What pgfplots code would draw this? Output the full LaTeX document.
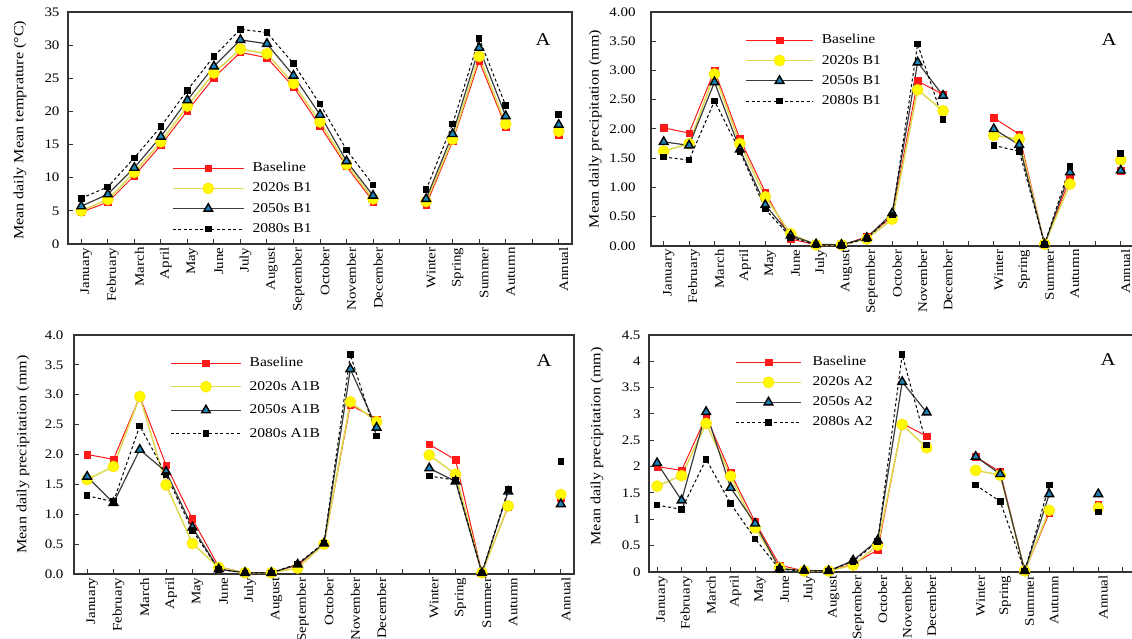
\documentclass[border=0pt]{standalone}
\usepackage{fontspec}
\setmainfont{Liberation Serif}[FakeStretch=1.15]
\usepackage{pgfplots}
\pgfplotsset{compat=1.18}
\usepackage{pgfplotstable}

\definecolor{cred}{RGB}{255,25,25}
\definecolor{cyel}{RGB}{255,250,0}
\definecolor{cyelline}{RGB}{222,218,80}
\definecolor{cgray}{RGB}{60,60,60}
\definecolor{cteal}{RGB}{30,130,180}

% x: 1..12 months, 14..17 seasons, 19 annual
\pgfplotstableread{
x base s20 s50 s80
1 4.8 5.0 5.7 6.9
2 6.3 6.7 7.5 8.6
3 10.3 10.8 11.5 13.0
4 14.9 15.4 16.2 17.7
5 20.1 20.8 21.7 23.2
6 25.1 25.8 26.8 28.3
7 28.9 29.4 30.8 32.4
8 28.1 28.7 30.2 31.9
9 23.7 24.2 25.4 27.2
10 17.8 18.4 19.5 21.1
11 11.7 12.0 12.5 14.2
12 6.4 6.8 7.3 8.9
13 nan nan nan nan
14 5.9 6.4 6.8 8.2
15 15.5 15.8 16.6 18.1
16 27.6 28.3 29.6 31.0
17 17.7 18.1 19.3 20.9
18 nan nan nan nan
19 16.5 17.0 18.0 19.5
}\tabA

\pgfplotstableread{
x base s20 s50 s80
1 2.02 1.62 1.78 1.52
2 1.93 1.75 1.72 1.47
3 3.00 2.94 2.80 2.48
4 1.83 1.75 1.65 1.62
5 0.92 0.84 0.70 0.63
6 0.12 0.21 0.18 0.15
7 0.02 0.02 0.03 0.02
8 0.01 0.02 0.02 0.01
9 0.16 0.12 0.14 0.13
10 0.50 0.46 0.56 0.53
11 2.82 2.67 3.14 3.45
12 2.59 2.31 2.57 2.16
13 nan nan nan nan
14 2.19 1.89 2.00 1.72
15 1.91 1.83 1.73 1.62
16 0.03 0.03 0.03 0.03
17 1.16 1.06 1.26 1.36
18 nan nan nan nan
19 1.29 1.47 1.29 1.58
}\tabB

\pgfplotstableread{
x base s20 s50 s80
1 2.00 1.58 1.63 1.31
2 1.92 1.80 1.19 1.21
3 2.97 2.97 2.08 2.48
4 1.82 1.49 1.71 1.66
5 0.92 0.51 0.78 0.73
6 0.12 0.11 0.08 0.08
7 0.02 0.02 0.02 0.02
8 0.02 0.02 0.02 0.02
9 0.15 0.10 0.16 0.17
10 0.50 0.50 0.51 0.52
11 2.83 2.88 3.43 3.67
12 2.59 2.55 2.45 2.31
13 nan nan nan nan
14 2.17 1.99 1.77 1.64
15 1.91 1.67 1.55 1.57
16 0.02 0.02 0.02 0.02
17 1.13 1.14 1.38 1.41
18 nan nan nan nan
19 1.27 1.33 1.17 1.88
}\tabC

\pgfplotstableread{
x base s20 s50 s80
1 2.00 1.63 2.07 1.27
2 1.93 1.83 1.36 1.19
3 2.95 2.82 3.04 2.14
4 1.88 1.82 1.60 1.30
5 0.95 0.84 0.92 0.63
6 0.13 0.08 0.06 0.05
7 0.02 0.02 0.03 0.02
8 0.02 0.02 0.02 0.02
9 0.15 0.13 0.22 0.20
10 0.42 0.51 0.60 0.58
11 2.82 2.80 3.61 4.13
12 2.58 2.36 3.03 2.41
13 nan nan nan nan
14 2.19 1.93 2.19 1.65
15 1.90 1.84 1.86 1.34
16 0.02 0.02 0.02 0.02
17 1.12 1.17 1.48 1.65
18 nan nan nan nan
19 1.29 1.22 1.48 1.14
}\tabD

\pgfplotsset{
  sbase/.style={color=cred, line width=1pt, mark=square*, mark size=3.3pt,
    mark options={solid, fill=cred, draw=cred, line width=0.5pt}},
  s20/.style={color=cyelline, line width=1.5pt, mark=*, mark size=5.5pt,
    mark options={solid, fill=cyel, draw=cyel!80!orange, line width=0.6pt}},
  s50/.style={color=cgray, line width=1.2pt, mark=triangle*, mark size=5pt,
    mark options={solid, fill=cteal, draw=black, line width=1.4pt}},
  s80/.style={color=black, line width=1pt, dash pattern=on 3pt off 2.5pt,
    mark=square*, mark size=2.8pt, mark options={solid, fill=black}},
  panel/.style={
    scale only axis, anchor=south west,
    xmin=0.5, xmax=19.5, ymin=0,
    xtick={1,...,20},
    xticklabels={January,February,March,April,May,June,July,August,September,October,November,December,,Winter,Spring,Summer,Autumn,,Annual,},
    x tick label style={rotate=90, anchor=east, yshift=-5pt, font=\fontsize{13}{15}\selectfont},
    y tick label style={font=\fontsize{13}{15}\selectfont},
    tick align=inside, xtick pos=left, ytick pos=left,
    major tick length=5pt,
    axis line style={black!80, line width=1.2pt},
    every tick/.style={black!80, line width=1pt},
    unbounded coords=jump,
    /pgf/number format/assume math mode=true,
    ylabel style={anchor=center, font=\fontsize{14}{16}\selectfont},
    legend cell align=left,
    legend style={draw=none, fill=none, inner sep=0pt, anchor=north west,
      font=\fontsize{13.5}{15}\selectfont,
      nodes={inner sep=0pt, text height=10pt, text depth=3pt},
      /tikz/column sep=8pt},
    legend image code/.code={\draw[mark repeat=2, mark phase=2, ##1] plot coordinates {(0pt,0pt)(\leghalf,0pt)(\leglen,0pt)};},
  }
}

\begin{document}
\begin{tikzpicture}
\useasboundingbox (0,0) rectangle (1132pt,639pt);

% Panel 1
\def\leglen{71pt}\def\leghalf{35.5pt}
\begin{axis}[panel, at={(68pt,395pt)}, width=504pt, height=232pt,
  ymax=35, ytick={0,5,...,35},
  y tick label style={xshift=-5pt},
  ylabel={Mean daily Mean temprature (°C)},
  ylabel style={at={(axis description cs:-0.095,0.49)}},
  legend style={at={(axis description cs:0.206,0.356)}, /tikz/row sep=7.3pt}]
\addplot[sbase] table[x=x,y=base]{\tabA};
\addplot[s20] table[x=x,y=s20]{\tabA};
\addplot[s50] table[x=x,y=s50]{\tabA};
\addplot[s80] table[x=x,y=s80]{\tabA};
\legend{Baseline,2020s B1,2050s B1,2080s B1}
\end{axis}

% Panel 2
\def\leglen{67pt}\def\leghalf{33.5pt}
\begin{axis}[panel, at={(651pt,393pt)}, width=485pt, height=234pt,
  xmax=19.6,
  ymax=4, ytick={0,0.5,...,4},
  y tick label style={xshift=-12pt, /pgf/number format/.cd, fixed, fixed zerofill, precision=2},
  ylabel={Mean daily precipitation (mm)},
  ylabel style={at={(axis description cs:-0.115,0.50)}},
  legend style={at={(axis description cs:0.194,0.908)}, /tikz/row sep=7.3pt}]
\addplot[sbase] table[x=x,y=base]{\tabB};
\addplot[s20] table[x=x,y=s20]{\tabB};
\addplot[s50] table[x=x,y=s50]{\tabB};
\addplot[s80] table[x=x,y=s80]{\tabB};
\legend{Baseline,2020s B1,2050s B1,2080s B1}
\end{axis}

% Panel 3
\def\leglen{70pt}\def\leghalf{35pt}
\begin{axis}[panel, at={(74pt,65pt)}, width=500pt, height=239pt,
  ymax=4, ytick={0,0.5,...,4},
  y tick label style={xshift=-7pt, /pgf/number format/.cd, fixed, fixed zerofill, precision=1},
  ylabel={Mean daily precipitation (mm)},
  ylabel style={at={(axis description cs:-0.102,0.50)}},
  legend style={at={(axis description cs:0.192,0.910)}, /tikz/row sep=10.5pt}]
\addplot[sbase] table[x=x,y=base]{\tabC};
\addplot[s20] table[x=x,y=s20]{\tabC};
\addplot[s50] table[x=x,y=s50]{\tabC};
\addplot[s80] table[x=x,y=s80]{\tabC};
\legend{Baseline,2020s A1B,2050s A1B,2080s A1B}
\end{axis}

% Panel 4
\def\leglen{65pt}\def\leghalf{32.5pt}
\begin{axis}[panel, at={(649pt,67pt)}, width=486pt, height=237pt,
  xmin=0.67, xmax=20.5,
  ymax=4.5, ytick={0,0.5,...,4.5},
  y tick label style={xshift=-5pt, /pgf/number format/.cd, fixed, precision=1},
  ylabel={Mean daily precipitation (mm)},
  ylabel style={at={(axis description cs:-0.107,0.53)}},
  legend style={at={(axis description cs:0.177,0.913)}, /tikz/row sep=7pt, /tikz/column sep=11pt}]
\addplot[sbase] table[x=x,y=base]{\tabD};
\addplot[s20] table[x=x,y=s20]{\tabD};
\addplot[s50] table[x=x,y=s50]{\tabD};
\addplot[s80] table[x=x,y=s80]{\tabD};
\legend{Baseline,2020s A2,2050s A2,2080s A2}
\end{axis}

\node[font=\fontsize{18}{20}\selectfont] at (543pt,599pt) {A};
\node[font=\fontsize{18}{20}\selectfont] at (1109pt,599pt) {A};
\node[font=\fontsize{18}{20}\selectfont] at (544pt,278pt) {A};
\node[font=\fontsize{18}{20}\selectfont] at (1108pt,279pt) {A};
\end{tikzpicture}
\end{document}
